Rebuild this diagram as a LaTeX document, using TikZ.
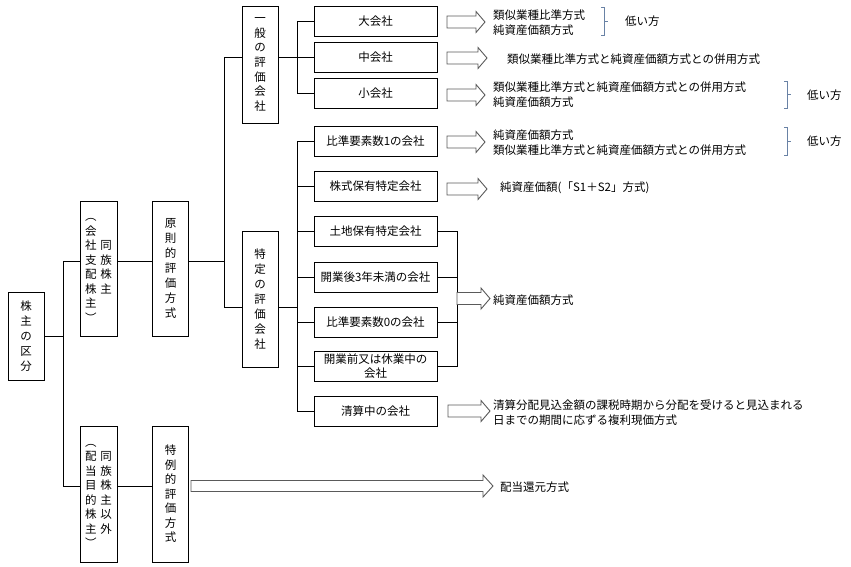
\documentclass[tikz,border=0pt]{standalone}
\usepackage{fontspec}
\setmainfont{Noto Sans CJK JP}
\definecolor{brk}{RGB}{105,130,165}
\definecolor{arrowline}{RGB}{90,90,90}
\newcommand\blockarrow[6]{% x1, x2, y, shaft half, head half, head length
  \draw[barrow] (#1,#3-#4) -- (#2-#6,#3-#4) -- (#2-#6,#3-#5) -- (#2,#3)
    -- (#2-#6,#3+#5) -- (#2-#6,#3+#4) -- (#1,#3+#4) -- cycle;}
\newcommand\sidebrack[3]{% x, y1, y2
  \draw[brkline] (#1-3,#2) -- (#1,#2) -- (#1,#3) -- (#1-3,#3);
  \draw[brkline] ({#1},{(#2+#3)/2}) -- ++(4,0);}
\begin{document}
\begin{tikzpicture}[x=1pt,y=-1pt,
  every node/.style={font=\fontsize{11.5}{15}\selectfont},
  box/.style={draw, line width=0.9pt, inner sep=0pt},
  vbox/.style={box, minimum width=36pt, align=center},
  hbox/.style={box, minimum width=123pt, minimum height=30pt, align=center,
    font=\fontsize{11.5}{14}\selectfont},
  txt/.style={anchor=west, align=left, inner sep=0pt},
  conn/.style={line width=0.9pt},
  barrow/.style={draw=arrowline, fill=white, line width=0.9pt, line join=miter},
  brkline/.style={draw=brk, line width=0.9pt}]
\useasboundingbox (0,0) rectangle (851,566);

% left column boxes
\node[vbox, minimum height=88pt] (s) at (26,336) {株\\主\\の\\区\\分};
\node[vbox, minimum width=37pt, minimum height=135pt,
      font=\fontsize{11.5}{14.5}\selectfont] (d1) at (98.5,268.5)
  {\begin{tabular}{@{}c@{\hspace{4pt}}c@{}}
   ︵ & \\ 会 & \\ 社 & 同\\ 支 & 族\\ 配 & 株\\ 株 & 主\\ 主 & \\ ︶ &
   \end{tabular}};
\node[vbox, minimum height=135pt] (g1) at (170.5,268.5) {原\\則\\的\\評\\価\\方\\式};
\node[vbox, minimum width=37pt, minimum height=136pt,
      font=\fontsize{11.5}{14.5}\selectfont] (d2) at (98.5,494)
  {\begin{tabular}{@{}c@{\hspace{4pt}}c@{}}
   ︵ & \\ 配 & 同\\ 当 & 族\\ 目 & 株\\ 的 & 主\\ 株 & 以\\ 主 & 外\\ ︶ &
   \end{tabular}};
\node[vbox, minimum height=136pt, font=\fontsize{11.5}{14.5}\selectfont] (g2) at (170.5,494) {特\\例\\的\\評\\価\\方\\式};

% middle column
\node[vbox, minimum height=117pt, font=\fontsize{11.5}{14.7}\selectfont] (ip) at (260,64.5) {一\\般\\の\\評\\価\\会\\社};
\node[vbox, minimum height=136pt] (tk) at (260,299) {特\\定\\の\\評\\価\\会\\社};

% company boxes
\node[hbox] (c1) at (375.5,21) {大会社};
\node[hbox] (c2) at (375.5,57) {中会社};
\node[hbox] (c3) at (375.5,93) {小会社};
\node[hbox] (t1) at (375.5,141) {比準要素数1の会社};
\node[hbox] (t2) at (375.5,186) {株式保有特定会社};
\node[hbox] (t3) at (375.5,231.5) {土地保有特定会社};
\node[hbox] (t4) at (375.5,277) {開業後3年未満の会社};
\node[hbox] (t5) at (375.5,322) {比準要素数0の会社};
\node[hbox] (t6) at (375.5,366) {開業前又は休業中の\\会社};
\node[hbox] (t7) at (375.5,411) {清算中の会社};

% junction coordinates
\coordinate (ja) at (63,261);
\coordinate (jb) at (63,486);
\coordinate (jd) at (224,57);
\coordinate (je) at (224,307);
\coordinate (jf) at (297,57);
\coordinate (jg) at (297,307);
\coordinate (jh) at (457,298.5);

% connectors
\draw[conn] (s.east) -| (ja) -- (d1.west |- ja);
\draw[conn] (s.east -| ja) |- (d2.west |- jb);
\draw[conn] (d1.east |- ja) -- (g1.west |- ja);
\draw[conn] (d2.east |- jb) -- (g2.west |- jb);
\draw[conn] (g1.east |- ja) -- (ja -| jd);
\draw[conn] (ip.west |- jd) -| (je) -- (tk.west |- je);
\draw[conn] (ip.east |- jf) -- (jf);
\draw[conn] (c1.west) -| (jf |- c3.west) -- (c3.west);
\draw[conn] (c2.west) -- (c2.west -| jf);
\draw[conn] (tk.east |- jg) -- (jg);
\draw[conn] (t1.west) -| (jf |- t7.west) -- (t7.west);
\foreach \n in {t2,t3,t4,t5,t6} \draw[conn] (\n.west) -- (\n.west -| jf);
\draw[conn] (t3.east) -| (jh |- t6.east) -- (t6.east);
\draw[conn] (t4.east) -- (t4.east -| jh);
\draw[conn] (t5.east) -- (t5.east -| jh);

% block arrows
\blockarrow{447}{485}{22}{6}{10.5}{9}
\blockarrow{447}{487}{58}{6}{10.5}{9}
\blockarrow{447}{485}{95}{6}{10.5}{9}
\blockarrow{447}{485}{142}{6}{10.5}{9}
\blockarrow{447}{487}{189}{6}{10.5}{9}
\blockarrow{457}{490}{298.5}{6}{10.5}{9}
\blockarrow{448}{490}{411}{6}{10.5}{9}
\blockarrow{191}{493}{486}{5.5}{11}{10}

% result texts
\node[txt] (r1) at (493,22.5) {類似業種比準方式\\純資産価額方式};
\node[txt] (r2) at (507,59) {類似業種比準方式と純資産価額方式との併用方式};
\node[txt] (r3) at (493,94.5) {類似業種比準方式と純資産価額方式との併用方式\\純資産価額方式};
\node[txt] (r4) at (493,143) {純資産価額方式\\類似業種比準方式と純資産価額方式との併用方式};
\node[txt] (r5) at (500,188) {純資産価額(「S1＋S2」方式)};
\node[txt] (r6) at (493,300) {純資産価額方式};
\node[txt] (r7) at (493,413) {清算分配見込金額の課税時期から分配を受けると見込まれる\\日までの期間に応ずる複利現価方式};
\node[txt] (r8) at (500,487) {配当還元方式};

% brackets and labels
\sidebrack{604}{7}{35}
\node[txt] (l1) at (625,21) {低い方};
\sidebrack{787}{81}{108}
\node[txt] (l3) at (807,95) {低い方};
\sidebrack{787}{127}{155}
\node[txt] (l4) at (807,141.5) {低い方};
\end{tikzpicture}
\end{document}
